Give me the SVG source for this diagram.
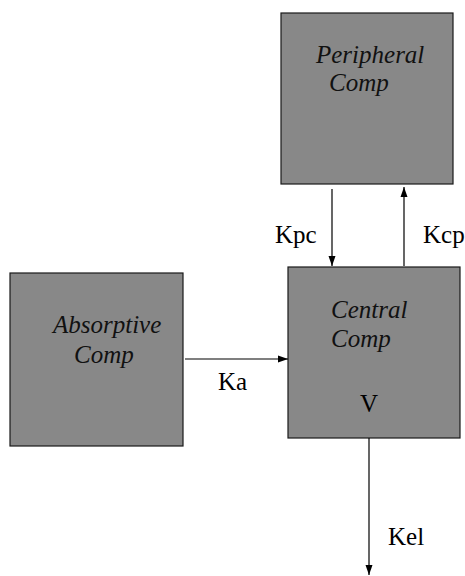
<svg xmlns="http://www.w3.org/2000/svg" width="465" height="576" viewBox="0 0 465 576">
<style>
.box{fill:#888888;stroke:#1a1a1a;stroke-width:1.2}
.lbl{font-family:'Liberation Serif','Times New Roman','DejaVu Serif',serif;font-style:italic;font-size:25px;fill:#111}
.k{font-family:'Liberation Serif','Times New Roman','DejaVu Serif',serif;font-size:25px;fill:#000}
.c{stroke:#000;stroke-width:1.2;fill:none;marker-end:url(#ah)}
</style>
<defs>
<marker id="ah" markerUnits="userSpaceOnUse" markerWidth="10" markerHeight="10" viewBox="0 0 10 10" refX="10" refY="5" orient="auto">
<path d="M0,1.5 L10,5 L0,8.5 Z" fill="#000"/>
</marker>
</defs>
<rect width="465" height="576" fill="#fff"/>
<g id="peripheral">
<rect class="box" x="281" y="13" width="172" height="171"/>
<text class="lbl" x="316" y="63">Peripheral</text>
<text class="lbl" x="329" y="91">Comp</text>
</g>
<g id="absorptive">
<rect class="box" x="10" y="273" width="173" height="173"/>
<text class="lbl" x="53" y="333">Absorptive</text>
<text class="lbl" x="74" y="363">Comp</text>
</g>
<g id="central">
<rect class="box" x="288" y="267" width="172" height="171"/>
<text class="lbl" x="331" y="318">Central</text>
<text class="lbl" x="331" y="347">Comp</text>
<text class="k" x="360" y="412">V</text>
</g>
<g id="connectors">
<line class="c" x1="332" y1="189" x2="332" y2="266"/>
<line class="c" x1="404" y1="266" x2="404" y2="187"/>
<line class="c" x1="185" y1="359" x2="288" y2="359"/>
<line class="c" x1="369" y1="438" x2="369" y2="575"/>
<text class="k" x="275" y="243">Kpc</text>
<text class="k" x="423" y="243">Kcp</text>
<text class="k" x="218" y="390">Ka</text>
<text class="k" x="388" y="545">Kel</text>
</g>
</svg>
